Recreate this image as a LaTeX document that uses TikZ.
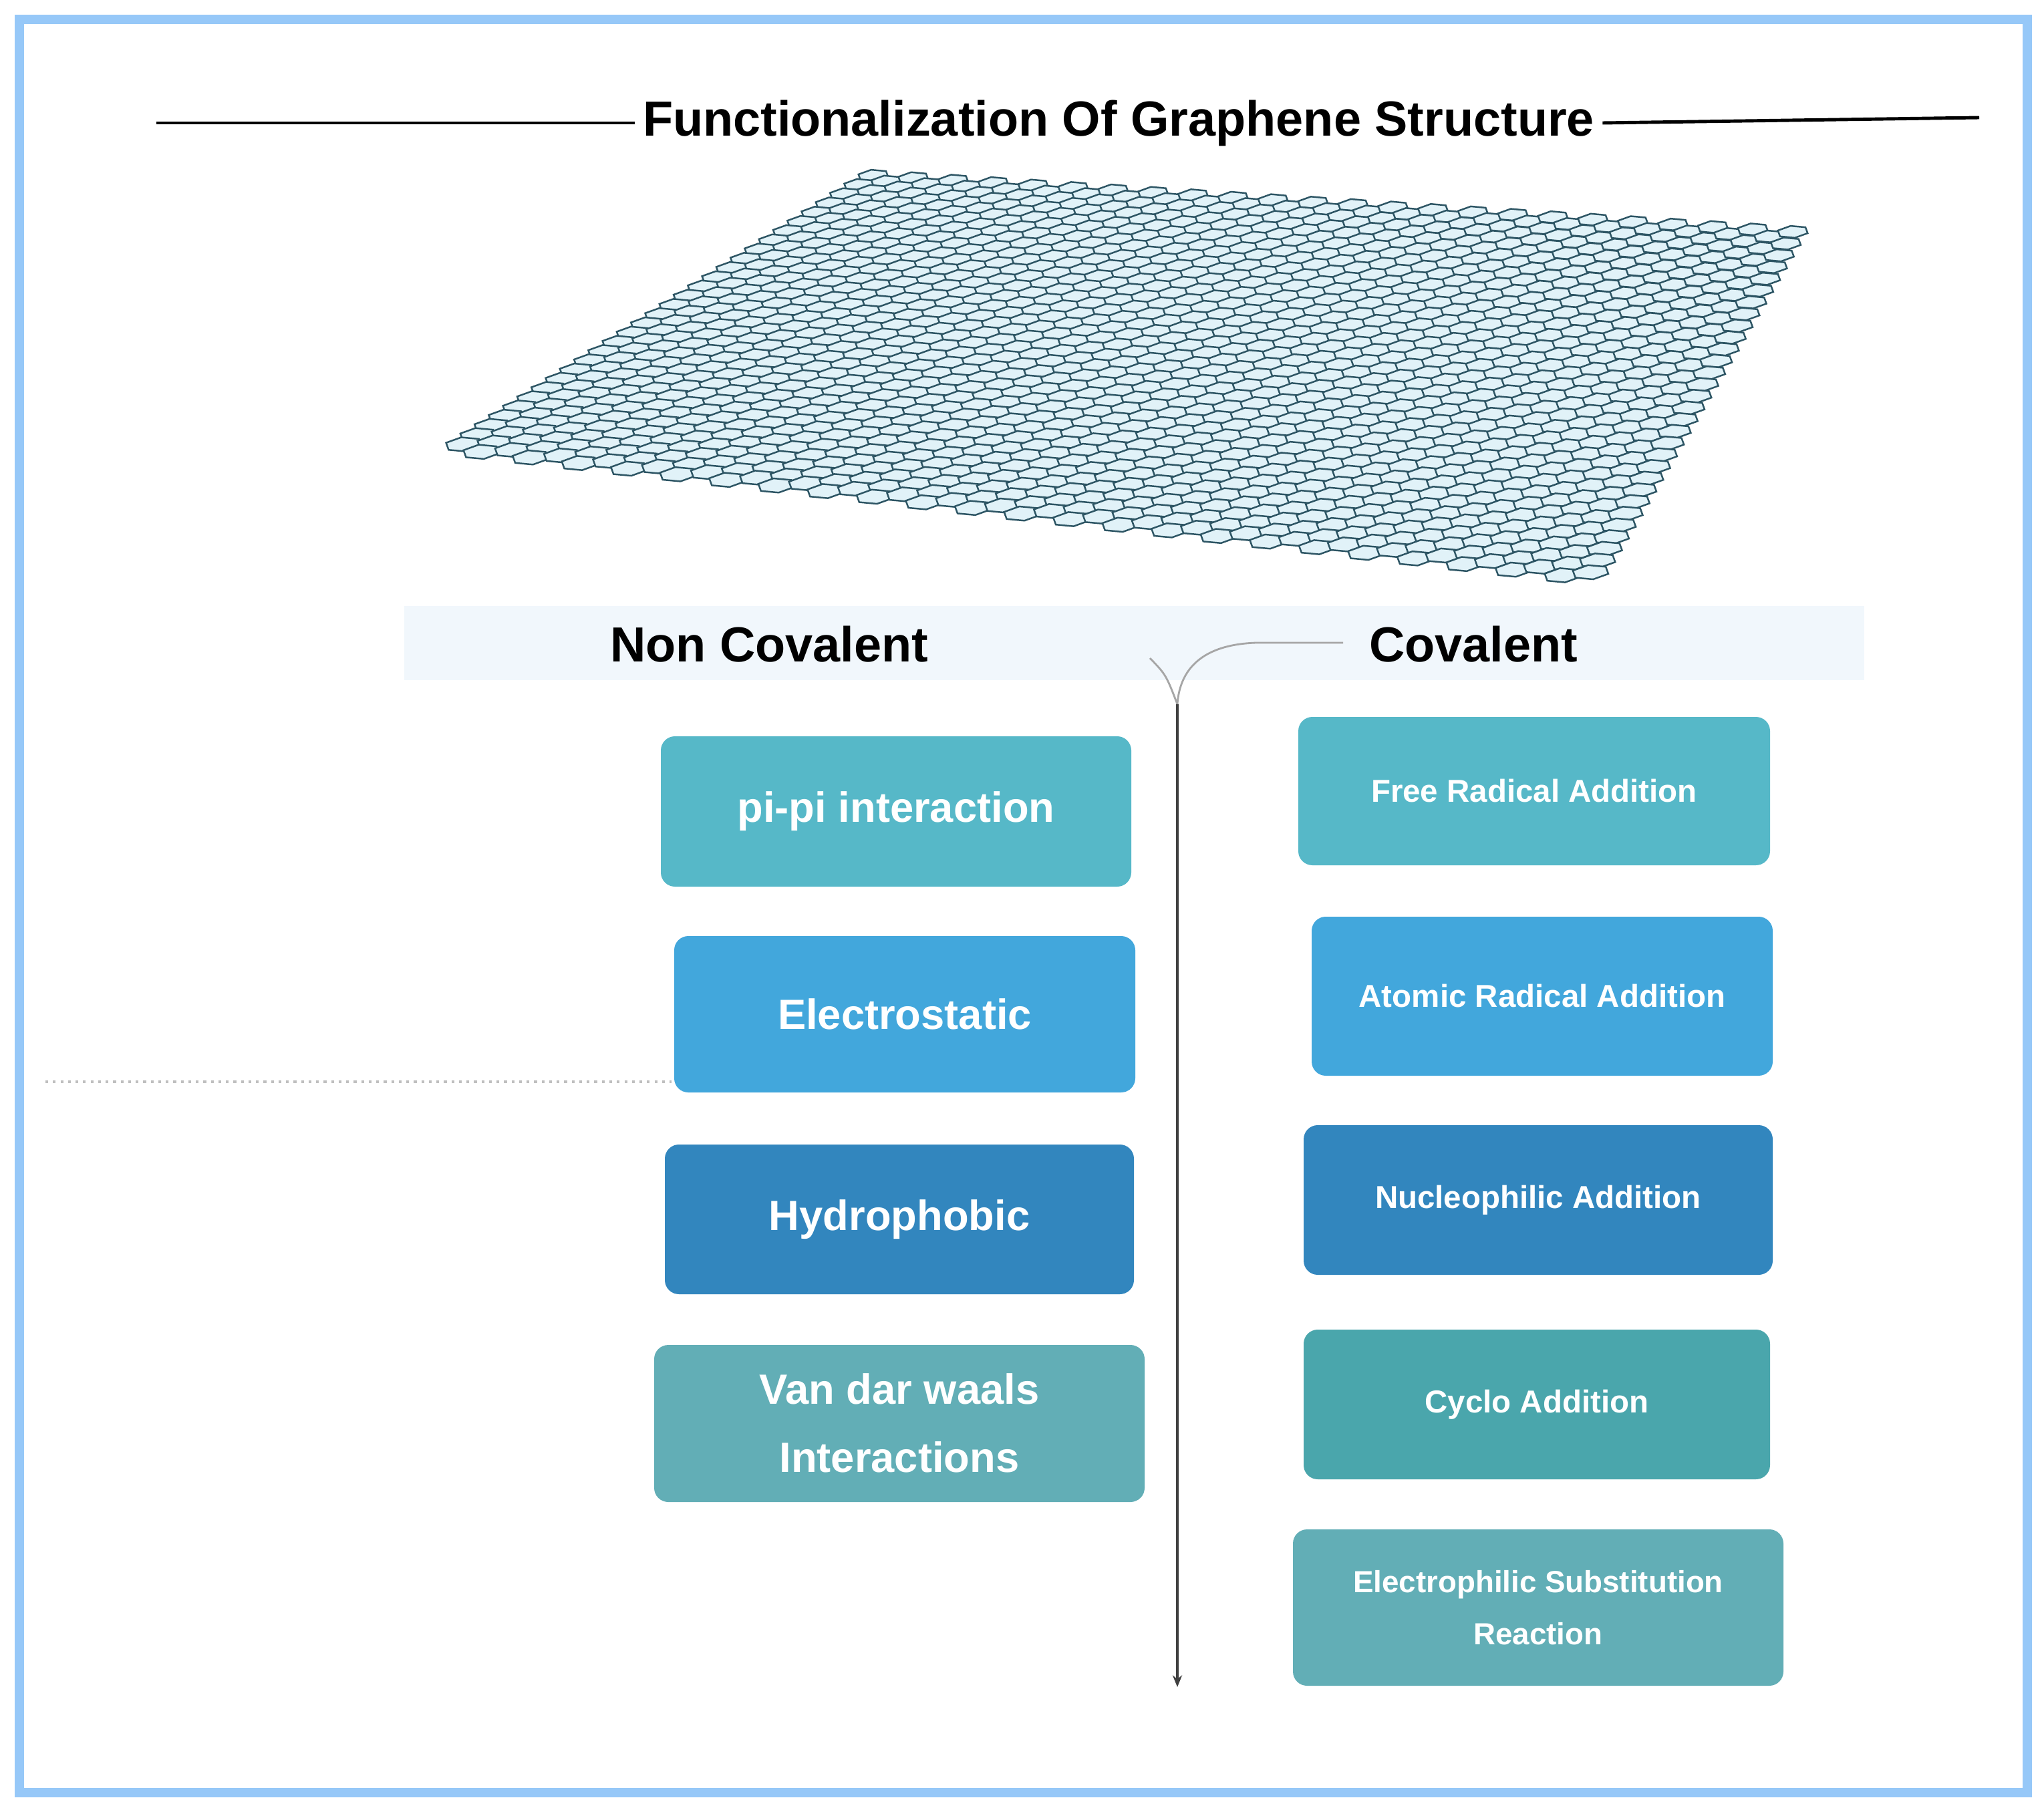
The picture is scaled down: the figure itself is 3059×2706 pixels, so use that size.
\documentclass[tikz,border=0pt]{standalone}
\usepackage{fontspec}
\setmainfont{Liberation Sans}
\usetikzlibrary{arrows.meta}
\definecolor{frame}{RGB}{150,200,248}
\definecolor{band}{RGB}{241,247,252}
\definecolor{cA}{RGB}{86,184,200}
\definecolor{cB}{RGB}{66,167,220}
\definecolor{cC}{RGB}{50,134,190}
\definecolor{cD}{RGB}{98,174,182}
\definecolor{cE}{RGB}{74,166,172}
\definecolor{hexc}{RGB}{45,85,100}
\definecolor{hexf}{RGB}{225,242,248}
\tikzset{
 hex/.style={draw=hexc, line width=0.7pt, fill=hexf},
 bxl/.style={font=\bfseries\fontsize{18}{29}\selectfont, text=white, align=center},
 bxr/.style={font=\bfseries\fontsize{13.5}{22}\selectfont, text=white, align=center},
 head/.style={font=\bfseries\fontsize{21}{25}\selectfont},
}
\begin{document}
\begin{tikzpicture}[x=0.01cm,y=-0.01cm]
\useasboundingbox (0,0) rectangle (3059,2706);
\fill[white] (0,0) rectangle (3059,2706);
\draw[frame, line width=4pt] (29,29) rectangle (3034,2683);
% title
\node[font=\bfseries\fontsize{21}{25}\selectfont] (title) at (1674,184) {Functionalization Of Graphene Structure};
\coordinate (tl) at (234,184);
\coordinate (tr) at (2962,176);
\draw[line width=1.4pt] (tl) -- (title.west);
\draw[line width=1.4pt] (title.east) -- (tr);
% graphene sheet
\foreach \i in {0,...,46}{
 \foreach \j in {0,...,29}{
  \pgfmathsetmacro\u{\i/46}
  \pgfmathsetmacro\v{(\j+0.5*mod(\i,2))/30}
  \pgfmathsetmacro\s{1+0.2*\v}
  \pgfmathsetmacro\cx{(1-\u)*(1-\v)*1307+\u*(1-\v)*2683+\u*\v*2370+(1-\u)*\v*673}
  \pgfmathsetmacro\cy{(1-\u)*(1-\v)*263+\u*(1-\v)*347+\u*\v*874+(1-\u)*\v*679}
  \draw[hex, shift={(\cx,\cy)}, scale=\s] (22.26,2.03) -- ++(-19.03,6.85) -- ++(-22.26,-2.04) -- ++(-3.23,-8.87) -- ++(19.03,-6.85) -- ++(22.26,2.04) -- cycle;
 }
}
% band
\fill[band] (605,907) rectangle (2790,1018);
\node[head] (nc) at (1151,964) {Non Covalent};
\node[head] (cv) at (2205,964) {Covalent};
% connector
\coordinate (j) at (1762,1054);
\coordinate (ls) at (1721,985);
\coordinate (re) at (2010,962);
\coordinate (bot) at (1762,2525);
\draw[gray!70, line width=0.8pt] (ls) .. controls (1745,1010) .. (j);
\draw[gray!70, line width=0.8pt] (re) -- (1880,962) .. controls (1790,965) and (1765,1010) .. (j);
\draw[black!75, line width=1.2pt, -{Stealth[length=5pt,width=4pt]}] (j) -- (bot);
% dotted
\coordinate (d1) at (68,1619);
\coordinate (d2) at (1005,1619);
\draw[gray!50, dotted, line width=1.2pt] (d1) -- (d2);
% left boxes
\fill[cA, rounded corners=6pt] (989,1102) rectangle (1693,1327);
\node[bxl] (b1) at (1341,1214) {pi-pi interaction};
\fill[cB, rounded corners=6pt] (1009,1401) rectangle (1699,1635);
\node[bxl] (b2) at (1354,1518) {Electrostatic};
\fill[cC, rounded corners=6pt] (995,1713) rectangle (1697,1937);
\node[bxl] (b3) at (1346,1825) {Hydrophobic};
\fill[cD, rounded corners=6pt] (979,2013) rectangle (1713,2248);
\node[bxl] (b4) at (1346,2130) {Van dar waals\\Interactions};
% right boxes
\fill[cA, rounded corners=6pt] (1943,1073) rectangle (2649,1295);
\node[bxr] (r1) at (2296,1184) {Free Radical Addition};
\fill[cB, rounded corners=6pt] (1963,1372) rectangle (2653,1610);
\node[bxr] (r2) at (2308,1491) {Atomic Radical Addition};
\fill[cC, rounded corners=6pt] (1951,1684) rectangle (2653,1908);
\node[bxr] (r3) at (2302,1796) {Nucleophilic Addition};
\fill[cE, rounded corners=6pt] (1951,1990) rectangle (2649,2214);
\node[bxr] (r4) at (2300,2102) {Cyclo Addition};
\fill[cD, rounded corners=6pt] (1935,2289) rectangle (2669,2523);
\node[bxr, font=\bfseries\fontsize{13}{22}\selectfont] (r5) at (2302,2406) {Electrophilic Substitution\\Reaction};
\end{tikzpicture}
\end{document}
